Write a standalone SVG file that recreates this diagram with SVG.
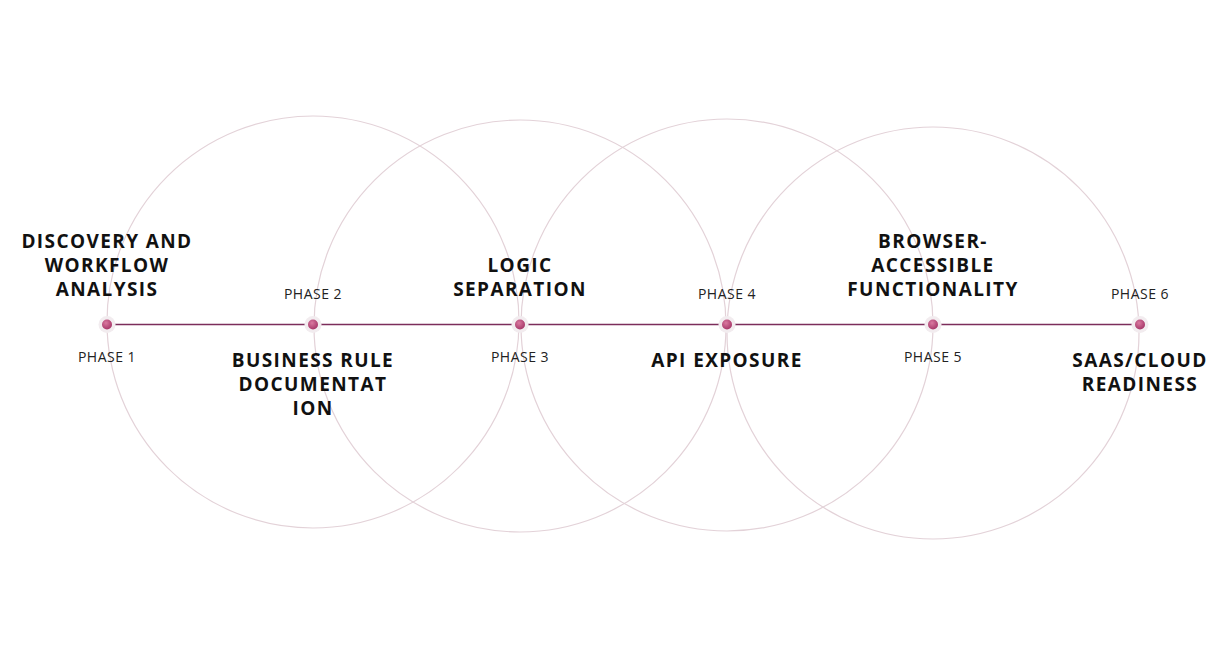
<svg xmlns="http://www.w3.org/2000/svg" width="1227" height="650" viewBox="0 0 1227 650">
<defs>
<radialGradient id="dotg" cx="40%" cy="35%" r="65%">
<stop offset="0" stop-color="#d9789f"/>
<stop offset="1" stop-color="#a8386a"/>
</radialGradient>
</defs>
<style>
.ring{fill:none;stroke:#e3d2d8;stroke-width:1.2}
.line{stroke:#7c2d5b;stroke-width:1.5;fill:none}
.halo{fill:#f2ecef}
.dot{fill:url(#dotg)}
.title{font-family:"Open Sans","Liberation Sans",sans-serif;font-weight:700;font-size:19px;letter-spacing:1.4px;fill:#111;text-anchor:middle}
.phase{font-family:"Open Sans","Liberation Sans",sans-serif;font-weight:400;font-size:14px;letter-spacing:0.5px;fill:#222;text-anchor:middle}
</style>
<rect width="1227" height="650" fill="#ffffff"/>
<g id="connectors">
<circle class="ring" cx="313" cy="322" r="206"/>
<circle class="ring" cx="520" cy="326" r="206"/>
<circle class="ring" cx="727" cy="325" r="206"/>
<circle class="ring" cx="933" cy="333" r="206"/>
<line class="line" x1="107" y1="324.5" x2="1140" y2="324.5"/>
</g>
<g id="phase1">
<circle class="halo" cx="107" cy="324.5" r="8.5"/>
<circle class="dot" cx="107" cy="324.5" r="5"/>
<text class="title" x="107" y="248">DISCOVERY AND</text>
<text class="title" x="107" y="272">WORKFLOW</text>
<text class="title" x="107" y="296">ANALYSIS</text>
<text class="phase" x="107" y="362">PHASE 1</text>
</g>
<g id="phase2">
<circle class="halo" cx="313" cy="324.5" r="8.5"/>
<circle class="dot" cx="313" cy="324.5" r="5"/>
<text class="phase" x="313" y="299">PHASE 2</text>
<text class="title" x="313" y="367">BUSINESS RULE</text>
<text class="title" x="313" y="391">DOCUMENTAT</text>
<text class="title" x="313" y="415">ION</text>
</g>
<g id="phase3">
<circle class="halo" cx="520" cy="324.5" r="8.5"/>
<circle class="dot" cx="520" cy="324.5" r="5"/>
<text class="title" x="520" y="272">LOGIC</text>
<text class="title" x="520" y="296">SEPARATION</text>
<text class="phase" x="520" y="362">PHASE 3</text>
</g>
<g id="phase4">
<circle class="halo" cx="727" cy="324.5" r="8.5"/>
<circle class="dot" cx="727" cy="324.5" r="5"/>
<text class="phase" x="727" y="299">PHASE 4</text>
<text class="title" x="727" y="367">API EXPOSURE</text>
</g>
<g id="phase5">
<circle class="halo" cx="933" cy="324.5" r="8.5"/>
<circle class="dot" cx="933" cy="324.5" r="5"/>
<text class="title" x="933" y="248">BROWSER-</text>
<text class="title" x="933" y="272">ACCESSIBLE</text>
<text class="title" x="933" y="296">FUNCTIONALITY</text>
<text class="phase" x="933" y="362">PHASE 5</text>
</g>
<g id="phase6">
<circle class="halo" cx="1140" cy="324.5" r="8.5"/>
<circle class="dot" cx="1140" cy="324.5" r="5"/>
<text class="phase" x="1140" y="299">PHASE 6</text>
<text class="title" x="1140" y="367">SAAS/CLOUD</text>
<text class="title" x="1140" y="391">READINESS</text>
</g>
</svg>
